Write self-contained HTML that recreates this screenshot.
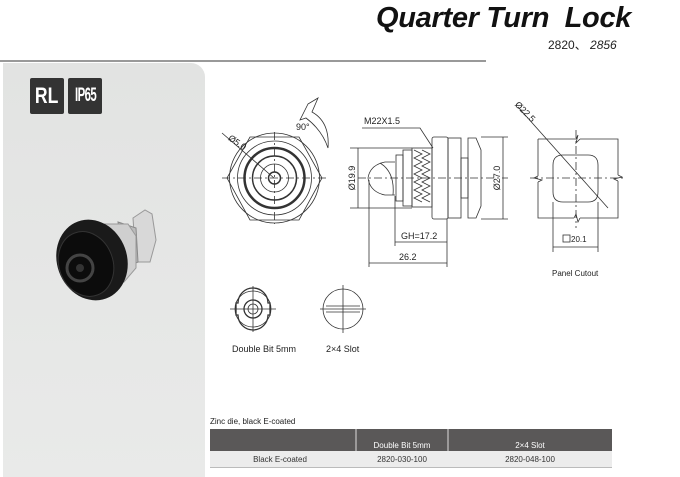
<!DOCTYPE html>
<html><head><meta charset="utf-8"><style>
body{margin:0;background:#fff;font-family:"Liberation Sans",Arial,sans-serif}
#w{position:relative;width:680px;height:477px;overflow:hidden;background:#fff}
.t{position:absolute;white-space:nowrap}
</style></head><body><div id="w">
<div class="t" style="left:376px;top:2px;font-size:29px;font-weight:bold;font-style:italic;color:#111;letter-spacing:-0.3px">Quarter Turn&nbsp; Lock</div>
<div class="t" style="left:548px;top:36px;font-size:12px;color:#222">2820、 <i>2856</i></div>
<div style="position:absolute;left:0;top:60px;width:486px;height:2px;background:#999"></div>
<div style="position:absolute;left:3px;top:63px;width:202px;height:414px;background:linear-gradient(#e2e3e2,#e9eae9);border-top-right-radius:14px"></div>
<div class="t" style="left:30px;top:78px;width:34px;height:36px;background:#333;border-radius:2px;color:#fff;font-weight:bold;font-size:22px;line-height:36px;text-align:center"><span style="display:inline-block;transform:scaleX(0.8)">RL</span></div>
<div class="t" style="left:68px;top:78px;width:34px;height:36px;background:#333;border-radius:2px;color:#fff;font-weight:bold;font-size:19px;line-height:36px;text-align:center"><span style="display:inline-block;transform:scaleX(0.6);letter-spacing:-1px">IP65</span></div>
<svg width="680" height="477" style="position:absolute;left:0;top:0" font-family="Liberation Sans, Arial, sans-serif">
<!-- photo lock -->
<g>
<path d="M133,218 L145,210 L152,214 L156,240 L150,262 L136,262 Z" fill="#d8d8d8" stroke="#999"/>
<path d="M118,222 L136,228 L138,262 L124,268 Z" fill="#bbb" stroke="#888"/>
<path d="M100,224 L128,224 L136,236 L136,268 L124,282 L100,282 Z" fill="#cfcfcf" stroke="#999"/>
<ellipse cx="92" cy="260" rx="35" ry="41" fill="#1a1a1a" transform="rotate(-20 92 260)"/>
<ellipse cx="86" cy="264" rx="27" ry="33" fill="#0c0c0c" stroke="#333" transform="rotate(-20 86 264)"/>
<circle cx="80" cy="268" r="13" fill="none" stroke="#444" stroke-width="3"/>
<circle cx="80" cy="268" r="4" fill="#333"/>
</g>
<g fill="none" stroke="#333" stroke-width="0.8">
<!-- front view -->
<polygon points="227,178 250,137 299,137 322,178 299,220 250,220"/>
<circle cx="274.5" cy="178" r="45"/>
<circle cx="274.5" cy="178" r="37"/>
<circle cx="274.5" cy="178" r="30" stroke-width="2.5"/>
<circle cx="274.5" cy="178" r="22" stroke-width="1.5"/>
<circle cx="274.5" cy="178" r="14"/>
<circle cx="274.5" cy="178" r="6" stroke-width="1.5"/>
<line x1="274.5" y1="132" x2="274.5" y2="224" stroke-dasharray="8,3,2,3"/>
<line x1="222" y1="178" x2="327" y2="178" stroke-dasharray="8,3,2,3"/>
<line x1="222" y1="133" x2="274" y2="178"/>
<path d="M308,104 L318,98 L312,112 Q330,122 328,148 Q322,130 306,118 L300,120 Z"/>
<!-- side view -->
<rect x="432" y="137" width="16" height="82" rx="2"/>
<rect x="448" y="138" width="13" height="80"/>
<path d="M468,138 L476,138 L481,150 L481,206 L476,218 L468,218 Z"/>
<rect x="461" y="158" width="7" height="40"/>
<rect x="412" y="148" width="20" height="59"/>
<path d="M414,150 l8,4 -8,4 8,4 -8,4 8,4 -8,4 8,4 -8,4 8,4 -8,4 8,4 -8,4 8,4" />
<path d="M422,150 l8,4 -8,4 8,4 -8,4 8,4 -8,4 8,4 -8,4 8,4 -8,4 8,4 -8,4 8,4" />
<rect x="403" y="150" width="9" height="56"/>
<rect x="396" y="155" width="7" height="46"/>
<path d="M395,162 L385,162 Q370,165 368,178 Q370,192 385,195 L395,195"/>
<path d="M380,163 Q395,172 393,195"/>
<line x1="358" y1="178" x2="508" y2="178" stroke-dasharray="8,3,2,3"/>
<line x1="350" y1="148" x2="412" y2="148"/><line x1="350" y1="208" x2="412" y2="208"/>
<line x1="358" y1="148" x2="358" y2="208"/>
<line x1="481" y1="137" x2="508" y2="137"/><line x1="481" y1="219" x2="508" y2="219"/>
<line x1="503" y1="137" x2="503" y2="219"/>
<line x1="395" y1="196" x2="395" y2="246"/><line x1="369" y1="180" x2="369" y2="267"/>
<line x1="447" y1="219" x2="447" y2="267"/>
<line x1="395" y1="242" x2="447" y2="242"/><line x1="369" y1="263" x2="447" y2="263"/>
<polyline points="362,128 420,128 433,148"/>
<!-- panel cutout -->
<path d="M538,139 L576,139 M580,139 L618,139 L618,175 M618,181 L618,218 L580,218 M574,218 L538,218 L538,182 M538,176 L538,139"/>
<path d="M576,139 l2,-4 -2,8 4,-4 M618,175 l4,2 -8,2 4,2 M574,218 l2,-4 2,8 2,-4 M538,176 l-4,2 8,2 -4,2"/>
<path d="M563,155 L588,155 Q598,155 598,165 L598,192 Q598,202 588,202 L563,202 Q553,202 553,192 L553,165 Q553,155 563,155 Z"/>
<line x1="576" y1="130" x2="576" y2="228" stroke-dasharray="8,3,2,3"/>
<line x1="530" y1="178" x2="625" y2="178" stroke-dasharray="8,3,2,3"/>
<line x1="518" y1="107" x2="608" y2="208"/>
<line x1="553" y1="202" x2="553" y2="252"/><line x1="598" y1="202" x2="598" y2="252"/>
<line x1="553" y1="247" x2="598" y2="247"/>
<rect x="563" y="235" width="7" height="7"/>
<!-- keys -->
<circle cx="253" cy="309" r="18"/>
<path d="M238,303 A15,15 0 0 1 268,303 L270,303 L270,315 L268,315 A15,15 0 0 1 238,315 L236,315 L236,303 Z" stroke-width="1.3"/>
<circle cx="253" cy="309" r="9" stroke-width="1.3"/>
<circle cx="253" cy="309" r="5"/>
<line x1="253" y1="286" x2="253" y2="332"/><line x1="230" y1="309" x2="276" y2="309"/>
<circle cx="343" cy="309" r="20"/>
<line x1="326" y1="306" x2="360" y2="306"/><line x1="326" y1="312" x2="360" y2="312"/>
<line x1="343" y1="285" x2="343" y2="333"/><line x1="320" y1="309" x2="366" y2="309"/>
</g>
<g fill="#222" font-size="9">
<text x="228" y="142" transform="rotate(35 232 140)">Ø5.0</text>
<text x="296" y="130">90°</text>
<text x="364" y="124">M22X1.5</text>
<text x="355" y="178" transform="rotate(-90 355 178)" text-anchor="middle">Ø19.9</text>
<text x="500" y="178" transform="rotate(-90 500 178)" text-anchor="middle">Ø27.0</text>
<text x="401" y="239">GH=17.2</text>
<text x="399" y="260">26.2</text>
<text x="514" y="110" transform="rotate(45 520 108)">Ø22.5</text>
<text x="571" y="242" font-size="8">20.1</text>
<text x="552" y="276" font-size="8">Panel Cutout</text>
<text x="232" y="352">Double Bit 5mm</text>
<text x="326" y="352">2×4 Slot</text>
<text x="210" y="424" font-size="8">Zinc die, black E-coated</text>
</g>
<rect x="210" y="429" width="402" height="22" fill="#5a5858"/>
<line x1="356" y1="429" x2="356" y2="451" stroke="#ddd"/>
<line x1="448" y1="429" x2="448" y2="451" stroke="#ddd"/>
<rect x="210" y="451" width="402" height="16" fill="#ececec"/>
<line x1="210" y1="467.5" x2="612" y2="467.5" stroke="#bbb"/>
<g font-size="8" text-anchor="middle">
<text x="402" y="448" fill="#fff">Double Bit 5mm</text>
<text x="530" y="448" fill="#fff">2×4 Slot</text>
<text x="280" y="462" fill="#333">Black E-coated</text>
<text x="402" y="462" fill="#333">2820-030-100</text>
<text x="530" y="462" fill="#333">2820-048-100</text>
</g>
</svg>
</div></body></html>
